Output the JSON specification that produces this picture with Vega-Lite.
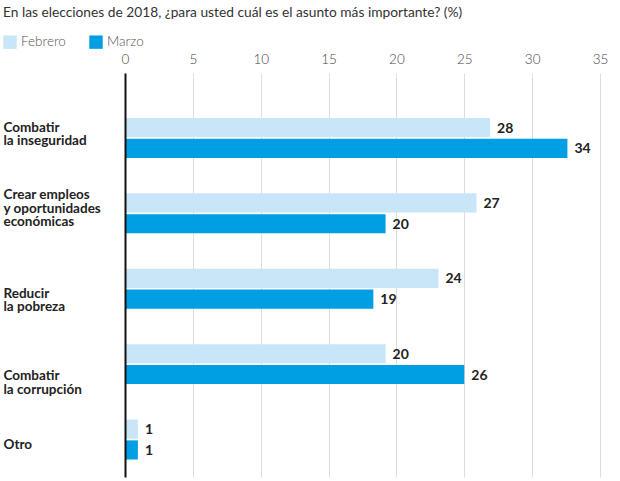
{
  "$schema": "https://vega.github.io/schema/vega-lite/v6.json",
  "autosize": "none",
  "width": 475,
  "height": 404,
  "padding": {"left": 125, "top": 73, "right": 20, "bottom": 4},
  "background": "white",
  "title": {
    "text": "En las elecciones de 2018, ¿para usted cuál es el asunto más importante? (%)",
    "anchor": "start",
    "frame": "group",
    "dx": -122,
    "offset": 15,
    "font": "Lato",
    "fontSize": 13.75,
    "fontWeight": "normal",
    "color": "#333333"
  },
  "data": {
    "values": [
      {"asunto": "Combatir\nla inseguridad", "mes": "Febrero", "valor": 26.9, "etiqueta": "28"},
      {"asunto": "Combatir\nla inseguridad", "mes": "Marzo", "valor": 32.6, "etiqueta": "34"},
      {"asunto": "Crear empleos\ny oportunidades\neconómicas", "mes": "Febrero", "valor": 25.9, "etiqueta": "27"},
      {"asunto": "Crear empleos\ny oportunidades\neconómicas", "mes": "Marzo", "valor": 19.2, "etiqueta": "20"},
      {"asunto": "Reducir\nla pobreza", "mes": "Febrero", "valor": 23.1, "etiqueta": "24"},
      {"asunto": "Reducir\nla pobreza", "mes": "Marzo", "valor": 18.3, "etiqueta": "19"},
      {"asunto": "Combatir\nla corrupción", "mes": "Febrero", "valor": 19.2, "etiqueta": "20"},
      {"asunto": "Combatir\nla corrupción", "mes": "Marzo", "valor": 25.0, "etiqueta": "26"},
      {"asunto": "Otro", "mes": "Febrero", "valor": 0.95, "etiqueta": "1"},
      {"asunto": "Otro", "mes": "Marzo", "valor": 0.95, "etiqueta": "1"}
    ]
  },
  "encoding": {
    "y": {
      "field": "asunto",
      "type": "nominal",
      "sort": null,
      "scale": {"paddingInner": 0.47, "paddingOuter": 0.414, "align": 0.72},
      "axis": {
        "title": null,
        "orient": "left",
        "zindex": 1,
        "domain": true,
        "domainColor": "#111111",
        "domainWidth": 2,
        "ticks": false,
        "tickSize": 0,
        "grid": false,
        "labelAlign": "left",
        "labelBaseline": "middle",
        "labelPadding": 122,
        "labelFont": "Lato",
        "labelFontSize": 13.5,
        "labelFontWeight": "bold",
        "labelColor": "#222222",
        "labelLineHeight": 13.5,
        "labelLimit": 200,
        "labelExpr": "split(datum.label, '\\n')",
        "labelOffset": {"expr": "indexof(datum.value, 'pobreza') >= 0 ? 5 : indexof(datum.value, 'corrup') >= 0 ? 12 : indexof(datum.value, 'empleos') >= 0 ? -18 : indexof(datum.value, 'insegur') >= 0 ? -10 : 5"}
      }
    },
    "yOffset": {
      "field": "mes",
      "type": "nominal",
      "sort": ["Febrero", "Marzo"],
      "scale": {"paddingInner": 0.08, "paddingOuter": 0}
    },
    "x": {
      "field": "valor",
      "type": "quantitative",
      "scale": {"domain": [0, 35], "nice": false},
      "axis": {
        "title": null,
        "orient": "top",
        "values": [0, 5, 10, 15, 20, 25, 30, 35],
        "domain": false,
        "ticks": false,
        "tickSize": 0,
        "labelPadding": 7,
        "labelFont": "Lato",
        "labelFontSize": 13.5,
        "labelFontWeight": 300,
        "labelColor": "#444444",
        "labelFlush": false,
        "grid": true,
        "gridColor": "#dddddd",
        "gridWidth": 1
      }
    }
  },
  "layer": [
    {
      "mark": {"type": "bar"},
      "encoding": {
        "color": {
          "field": "mes",
          "type": "nominal",
          "scale": {"domain": ["Febrero", "Marzo"], "range": ["#c8e6f8", "#009fe3"]},
          "legend": {
            "orient": "none",
            "legendX": -122,
            "legendY": -38,
            "direction": "horizontal",
            "title": null,
            "symbolType": "square",
            "symbolSize": 180,
            "symbolStrokeWidth": 0,
            "labelFont": "Lato",
            "labelFontSize": 13.5,
            "labelFontWeight": 300,
            "labelColor": "#555555",
            "labelOffset": 4,
            "columnPadding": 23
          }
        }
      }
    },
    {
      "mark": {"type": "text", "align": "left", "baseline": "middle", "dx": 7, "dy": 1, "font": "Lato", "fontSize": 14, "fontWeight": "bold", "color": "#222222"},
      "encoding": {"text": {"field": "etiqueta", "type": "nominal"}}
    }
  ],
  "config": {"view": {"stroke": null}}
}
